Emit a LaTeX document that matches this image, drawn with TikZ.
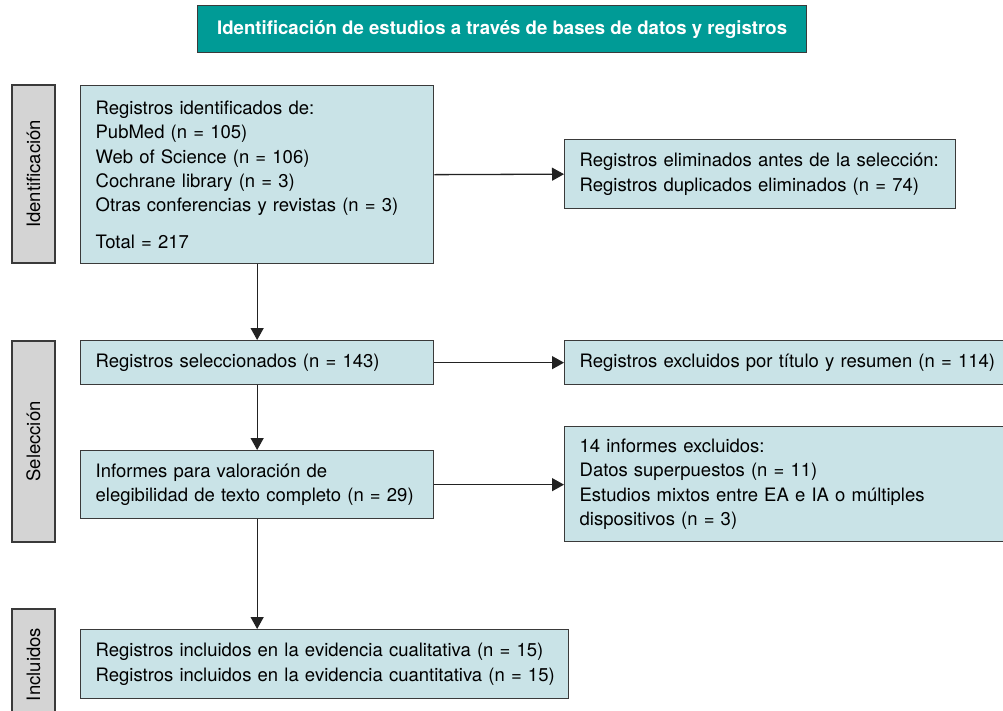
\documentclass[tikz,border=0pt]{standalone}
\usepackage{fontspec}
\setmainfont{TeX Gyre Heros}
\usetikzlibrary{arrows.meta}
\definecolor{tealtitle}{HTML}{009B96}
\definecolor{boxblue}{HTML}{C9E3E7}
\definecolor{sidegrey}{HTML}{D4D4D4}
\definecolor{edgecol}{HTML}{3A3A3A}
\definecolor{arrowcol}{HTML}{222222}
\begin{document}
\begin{tikzpicture}[x=1pt,y=-1pt,
  font=\fontsize{18.5}{24.3}\selectfont,
  flowbox/.style={draw=edgecol, line width=1.3pt, fill=boxblue, anchor=north west,
    inner xsep=15pt, inner ysep=0pt, align=left},
  sidebox/.style={draw=edgecol, line width=1.3pt, fill=sidegrey, rotate=90,
    minimum height=43pt, inner sep=0pt, anchor=center},
  titlebox/.style={draw=edgecol, line width=1.3pt, fill=tealtitle, anchor=north west,
    text=white, font=\fontsize{18.6}{22}\selectfont\bfseries, inner sep=0pt},
  flowarrow/.style={draw=arrowcol, line width=1.3pt, -{Triangle[length=12pt,width=13pt]}}
]
\useasboundingbox (0,0) rectangle (1003,710);
\begin{scope}
\clip (0,0) rectangle (1003,710);

\node[titlebox, minimum width=609pt, minimum height=47pt] (title) at (197,5)
  {Identificación de estudios a través de bases de datos y registros};

\node[sidebox, minimum width=178pt] (s1) at (33.5,174) {Identificación};
\node[sidebox, minimum width=201pt] (s2) at (33.5,441.5) {Selección};
\node[sidebox, minimum width=111pt] (s3) at (33.5,664.5) {Incluidos};

\node[flowbox, minimum width=353pt, text width=323pt, minimum height=178pt] (b1) at (80,85)
  {Registros identificados de:\\
   PubMed (n = 105)\\
   Web of Science (n = 106)\\
   Cochrane library (n = 3)\\
   Otras conferencias y revistas (n = 3)\\[12pt]
   Total = 217};

\node[flowbox, minimum width=391pt, text width=361pt, minimum height=69pt] (r1) at (564,139)
  {Registros eliminados antes de la selección:\\
   Registros duplicados eliminados (n = 74)};

\node[flowbox, minimum width=353pt, text width=323pt, minimum height=44pt] (b2) at (80,340)
  {Registros seleccionados (n = 143)};

\node[flowbox, minimum width=455pt, text width=425pt, minimum height=44pt] (r2) at (564,340)
  {Registros excluidos por título y resumen (n = 114)};

\node[flowbox, minimum width=353pt, text width=323pt, minimum height=68pt] (b3) at (80,450)
  {Informes para valoración de\\
   elegibilidad de texto completo (n = 29)};

\node[flowbox, minimum width=455pt, text width=425pt, minimum height=115pt] (r3) at (564,426)
  {14 informes excluidos:\\
   Datos superpuestos (n = 11)\\
   Estudios mixtos entre EA e IA o múltiples\\
   dispositivos (n = 3)};

\node[flowbox, minimum width=488pt, text width=458pt, minimum height=69pt] (b4) at (80,629)
  {\mbox{Registros incluidos en la evidencia cualitativa (n = 15)}\\
   \mbox{Registros incluidos en la evidencia cuantitativa (n = 15)}};

\draw[flowarrow] (b1.south) -- (b2.north);
\draw[flowarrow] (b1.east) -- (r1.west);
\draw[flowarrow] (b2.south) -- (b3.north);
\draw[flowarrow] (b2.east) -- (b2.east -| r2.west);
\draw[flowarrow] (b3.east) -- (b3.east -| r3.west);
\draw[flowarrow] (b3.south) -- (b3.south |- b4.north);
\end{scope}
\end{tikzpicture}
\end{document}
